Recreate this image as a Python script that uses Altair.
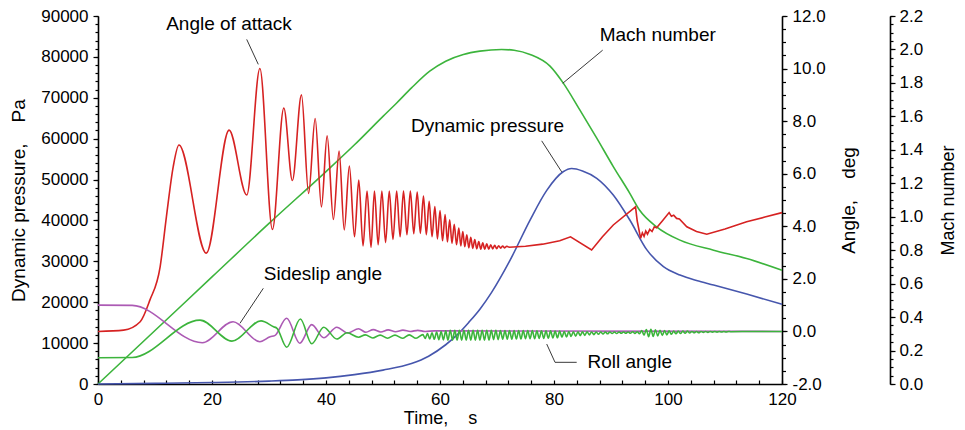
import altair as alt
import pandas as pd

# ---------------- data ----------------
# Angle of attack, deg (smooth oscillating part, extrema)
aoa1_t = [0, 4.5, 7.4, 9.1, 10.9, 12.0, 13.2, 14.2, 19, 23, 26.1, 28.4, 30.6, 32.6, 34.1, 35.7, 36.95, 38.1,
          39.2, 40.2, 41.3, 42.3, 43.2,
          44.1, 45.0, 45.75, 46.5, 47.2, 47.9, 48.5, 49.15, 49.8, 50.45, 51.1, 51.75, 52.4, 53.0, 53.6, 54.2,
          54.8, 55.4, 56.0, 56.55, 57.1, 57.6, 58.1, 58.6, 59.1, 59.55, 60.0, 60.45, 60.9, 61.3, 61.7, 62.1,
          62.5, 62.9, 63.3, 63.65, 64.0, 64.35, 64.7, 65.05, 65.4, 65.75, 66.1, 66.45, 66.8, 67.15, 67.5,
          67.85, 68.2, 68.55, 68.9, 69.25, 69.6, 69.95, 70.3, 70.65, 71.0, 71.35, 71.7, 72.1]
aoa1_v = [0.0, 0.05, 0.37, 1.19, 2.46, 4.36, 6.27, 7.09, 2.98, 7.66, 5.19, 10.0, 3.88, 8.5, 5.74, 9.0, 5.25, 8.1,
          4.74, 7.44, 4.26, 6.86, 3.86,
          6.29, 3.6, 5.76, 3.25, 5.34, 3.2, 5.34, 3.3, 5.34, 3.38, 5.34, 3.5, 5.34, 3.6, 5.34, 3.68,
          5.34, 3.72, 5.3, 3.73, 5.15, 3.68, 4.95, 3.6, 4.75, 3.52, 4.6, 3.45, 4.45, 3.4, 4.25, 3.35,
          4.08, 3.3, 3.93, 3.25, 3.8, 3.22, 3.68, 3.18, 3.58, 3.16, 3.5, 3.14, 3.42, 3.13, 3.37,
          3.13, 3.33, 3.13, 3.3, 3.14, 3.28, 3.15, 3.26, 3.17, 3.25, 3.18, 3.24, 3.2]
# Angle of attack, deg (piecewise part)
aoa2_t = [72.1, 75, 78, 81, 82.9, 86.6, 88.5, 90.4, 94.3, 94.6, 95.2, 95.5, 95.8, 96.1, 96.4, 96.8, 97.2,
          97.6, 98.0, 99.0, 100.2, 100.6, 101.0, 101.5, 102.0, 103.3, 105.0, 106.8, 110.0, 113.8, 117.0, 120.0]
aoa2_v = [3.2, 3.24, 3.32, 3.45, 3.6, 3.1, 3.6, 4.05, 4.74, 4.2, 3.54, 3.75, 3.62, 3.82, 3.7, 3.88, 3.8,
          3.98, 3.94, 4.2, 4.52, 4.38, 4.42, 4.3, 4.28, 3.98, 3.8, 3.7, 3.9, 4.17, 4.35, 4.52]

# Dynamic pressure, Pa
dp_t = [0, 10, 20, 30, 35, 40, 45, 50, 55, 58, 61, 63, 65, 67, 69, 72.3, 75.8, 78.7, 81.6, 83.1, 85,
        87.5, 90.4, 93.3, 96.3, 99.2, 102.1, 105, 108, 113.8, 120]
dp_v = [0, 150, 350, 700, 1000, 1500, 2300, 3400, 5000, 6800, 9600, 12000, 15000, 18300, 22300, 30300, 40100,
        47300, 51900, 52700, 52100, 50300, 46200, 40100, 32800, 28700, 26650, 25300, 24200, 22000, 19500]

# Mach number
m_t = [0, 10, 20, 30, 40, 45, 50, 52.4, 55, 58.2, 61, 64.1, 67, 70.8, 73, 75.8, 79.3, 81.6, 84.5, 87.5,
       90.4, 93.3, 95, 98, 102.1, 108, 113.8, 120]
m_v = [0, 0.32, 0.64, 0.96, 1.27, 1.43, 1.6, 1.68, 1.77, 1.87, 1.93, 1.97, 1.99, 2.0, 1.995, 1.97, 1.90,
       1.80, 1.64, 1.47, 1.30, 1.14, 1.04, 0.94, 0.86, 0.80, 0.75, 0.68]

# Sideslip angle, deg
ss_t = [0, 6, 18.3, 23.7, 28.4, 30.2, 31.0, 33.1, 35.4, 37.5, 39.6, 41.9, 43.8, 45.7, 47.0, 48.3, 49.6,
        50.9, 52.2, 53.5, 54.8, 56.1, 57.4, 59, 120]
ss_v = [1.0, 0.99, -0.43, 0.37, -0.39, -0.2, -0.16, 0.5, -0.45, 0.26, -0.24, 0.16, -0.06, 0.1, -0.03, 0.07,
        -0.02, 0.06, -0.01, 0.05, 0.0, 0.04, 0.0, 0.02, 0.0]

# Roll angle, deg (early part, extrema)
roll_t = [0, 6, 17.9, 23.5, 28.6, 30.8, 31.4, 33.1, 35.5, 37.5, 39.6, 41.9, 43.7, 45.7, 46.9, 48.2, 49.5,
          50.8, 52.1, 53.4, 54.6, 55.8, 57.0]
roll_v = [-1.0, -0.99, 0.43, -0.37, 0.4, 0.18, 0.12, -0.6, 0.47, -0.47, 0.16, -0.29, -0.05, -0.22, -0.13,
          -0.25, -0.14, -0.26, -0.14, -0.26, -0.13, -0.26, -0.12]
# Roll angle, deg (fast oscillation, sampled every 0.4 s from 57.4 s)
roll_osc_start = 57.4
roll_osc_step = 0.4
roll_osc = [
    -0.27, -0.08, -0.29, -0.05, -0.30, -0.02, -0.31, 0.0, -0.32, 0.02,
    -0.33, 0.04, -0.33, 0.04, -0.33, 0.04, -0.33, 0.04, -0.33, 0.04,
    -0.33, 0.04, -0.33, 0.04, -0.33, 0.04, -0.33, 0.04, -0.33, 0.04,
    -0.31, 0.04, -0.31, 0.03, -0.30, 0.03, -0.30, 0.03, -0.30, 0.03, -0.29, 0.03, -0.29, 0.03,
    -0.28, 0.03, -0.28, 0.03, -0.28, 0.02, -0.27, 0.02, -0.27, 0.02, -0.26,
    0.02, -0.25, 0.01, -0.24, 0.01, -0.22, 0.0, -0.21, 0.0, -0.19, -0.01, -0.18, -0.01, -0.16, -0.01,
    -0.15, -0.01, -0.13, -0.02, -0.12, -0.02, -0.11, -0.02, -0.10, -0.02, -0.09, -0.02, -0.08, -0.02, -0.08,
    -0.02, -0.07, -0.02, -0.07, -0.02, -0.07, -0.01, -0.08, -0.01, -0.09, 0.03, -0.14,
    0.07, -0.2, 0.08, -0.19, 0.06, -0.17, 0.04, -0.15, 0.03, -0.13, 0.02, -0.11, 0.01,
    -0.09, 0.01, -0.08, 0.01, -0.07, 0.01, -0.06, 0.0, -0.05, 0.0, -0.05, 0.0, -0.04, 0.0, -0.04, 0.0,
    -0.03, 0.0, -0.03, 0.0, -0.02, 0.0, -0.02, 0.0, -0.01]
roll_tail_t = [115, 120]
roll_tail_v = [0.0, 0.0]

# Annotations (time, angle-axis position)
ann_text = ["Angle of attack", "Mach number", "Dynamic pressure", "Sideslip angle", "Roll angle"]
ann_t = [22.98, 98.2, 68.33, 39.47, 93.28]
ann_v = [11.69, 11.27, 7.81, 2.18, -1.15]

lead_id = ["aoa", "aoa", "mach", "mach", "dp", "dp", "ss", "ss", "roll", "roll", "roll"]
lead_t = [26.09, 28.12, 88.54, 81.53, 77.84, 81.35, 29.0, 24.91, 83.98, 80.18, 78.72]
lead_v = [11.11, 10.16, 10.70, 9.44, 7.25, 6.07, 1.64, 0.31, -1.175, -1.175, -0.48]

# Axis ticks
x_major = [0, 20, 40, 60, 80, 100, 120]
x_minor = list(range(0, 121, 4))
pa_major = list(range(0, 90001, 10000))
pa_minor = list(range(0, 90001, 2000))
ang_major = list(range(-2, 13, 2))
ang_minor = [i * 0.5 for i in range(-4, 25)]
mach_major = [round(i * 0.2, 1) for i in range(12)]
mach_minor = [round(i * 0.05, 2) for i in range(45)]

# ---------------- build tables ----------------
df_aoa1 = pd.DataFrame({"t": aoa1_t, "v": aoa1_v})
df_aoa2 = pd.DataFrame({"t": aoa2_t, "v": aoa2_v})
df_dp = pd.DataFrame({"t": dp_t, "v": dp_v})
df_m = pd.DataFrame({"t": m_t, "v": m_v})
df_ss = pd.DataFrame({"t": ss_t, "v": ss_v})
osc_t = [round(roll_osc_start + i * roll_osc_step, 2) for i in range(len(roll_osc))]
df_roll = pd.DataFrame({"t": roll_t + osc_t + roll_tail_t, "v": roll_v + roll_osc + roll_tail_v})
df_ann = pd.DataFrame({"t": ann_t, "v": ann_v, "label": ann_text})
df_lead = pd.DataFrame({"id": lead_id, "t": lead_t, "v": lead_v})

FONT = "Liberation Sans"
RED = "#d62222"
GREEN = "#3cb43c"
BLUE = "#4656ad"
PURPLE = "#ac5ab4"

XS = alt.Scale(domain=[0, 120], nice=False, zero=False)
PA = alt.Scale(domain=[0, 90000], nice=False, zero=False)
ANG = alt.Scale(domain=[-2, 12], nice=False, zero=False)
MACH = alt.Scale(domain=[0, 2.2], nice=False, zero=False)

common = dict(grid=False, tickColor="black", domainColor="black", labelColor="black",
              labelFont=FONT, titleFont=FONT, titleColor="black", titleFontWeight="normal")


def X(axis=None):
    return alt.X("t:Q", scale=XS, axis=axis)


def Y(scale, axis=None):
    return alt.Y("v:Q", scale=scale, axis=axis)


# main x axis (labels + axis line)
x_main_axis = alt.Axis(orient="bottom", values=x_major, format="d", ticks=False, domain=True,
                       domainWidth=1.6, labelFontSize=17, labelPadding=7, labelFlush=False,
                       labelOverlap=False, title="Time,\u00a0\u00a0\u00a0\u00a0s", titleFontSize=18,
                       titleX=342, titleY=34, titleAlign="center", titleBaseline="middle",
                       titleAngle=0, **common)
# inward minor ticks of x axis
x_minor_axis = alt.Axis(orient="bottom", offset=-4, values=x_minor, ticks=True, tickSize=4, tickWidth=1.2,
                        labels=False, domain=False, title=None, **common)

pa_axis = alt.Axis(orient="left", values=pa_major, format="d", tickSize=5, tickWidth=1.2, domainWidth=1.6,
                   labelFontSize=17, labelPadding=5, labelOverlap=False, labelFlush=False,
                   title="Dynamic pressure,\u00a0\u00a0\u00a0\u00a0Pa", titleFontSize=19, titleAngle=270,
                   titleX=-80, titleY=184, titleAlign="center", titleBaseline="middle", **common)
pa_minor_axis = alt.Axis(orient="left", values=pa_minor, tickSize=3, tickWidth=1.2, labels=False,
                         domain=False, title=None, **common)

ang_axis = alt.Axis(orient="right", values=ang_major, format=".1f",
                    labelExpr="replace(datum.label, '\u2212', '-')", tickSize=5, tickWidth=1.2,
                    domainWidth=1.6, labelFontSize=17, labelPadding=5, labelOverlap=False, labelFlush=False,
                    title="Angle,\u00a0\u00a0\u00a0\u00a0deg", titleFontSize=19, titleAngle=270, titleX=66,
                    titleY=184, titleAlign="center", titleBaseline="middle", **common)
ang_minor_axis = alt.Axis(orient="right", values=ang_minor, tickSize=3.5, tickWidth=1.2, labels=False,
                          domain=False, title=None, **common)

mach_axis = alt.Axis(orient="right", offset=108, values=mach_major, format=".1f", tickSize=5, tickWidth=1.2,
                     domainWidth=1.6, labelFontSize=17, labelPadding=4, labelOverlap=False, labelFlush=False,
                     title="Mach number", titleFontSize=18, titleAngle=270, titleX=58, titleY=184,
                     titleAlign="center", titleBaseline="middle", **common)
mach_minor_axis = alt.Axis(orient="right", offset=108, values=mach_minor, tickSize=3, tickWidth=1.2,
                           labels=False, domain=False, title=None, **common)

# ---------------- layers ----------------
axes_pa = alt.Chart(df_dp).mark_line(strokeOpacity=0).encode(x=X(x_main_axis), y=Y(PA, pa_axis))
axes_pa_minor = alt.Chart(df_dp).mark_line(strokeOpacity=0).encode(x=X(x_minor_axis), y=Y(PA, pa_minor_axis))
axes_ang = alt.Chart(df_ss).mark_line(strokeOpacity=0).encode(x=X(), y=Y(ANG, ang_axis))
axes_ang_minor = alt.Chart(df_ss).mark_line(strokeOpacity=0).encode(x=X(), y=Y(ANG, ang_minor_axis))
axes_mach = alt.Chart(df_m).mark_line(strokeOpacity=0).encode(x=X(), y=Y(MACH, mach_axis))
axes_mach_minor = alt.Chart(df_m).mark_line(strokeOpacity=0).encode(x=X(), y=Y(MACH, mach_minor_axis))

mach_line = alt.Chart(df_m).mark_line(color=GREEN, strokeWidth=1.6, interpolate="monotone").encode(
    x=X(), y=Y(MACH))
dp_line = alt.Chart(df_dp).mark_line(color=BLUE, strokeWidth=1.6, interpolate="monotone").encode(
    x=X(), y=Y(PA))
aoa_line1 = alt.Chart(df_aoa1).mark_line(color=RED, strokeWidth=1.6, interpolate="monotone").encode(
    x=X(), y=Y(ANG))
aoa_line2 = alt.Chart(df_aoa2).mark_line(color=RED, strokeWidth=1.6, interpolate="linear").encode(
    x=X(), y=Y(ANG))
ss_line = alt.Chart(df_ss).mark_line(color=PURPLE, strokeWidth=1.6, interpolate="monotone").encode(
    x=X(), y=Y(ANG))
roll_line = alt.Chart(df_roll).mark_line(color=GREEN, strokeWidth=1.6, interpolate="monotone").encode(
    x=X(), y=Y(ANG))

leaders = alt.Chart(df_lead).mark_line(color="#222222", strokeWidth=0.9).encode(
    x=X(), y=Y(ANG), detail="id:N")
labels = alt.Chart(df_ann).mark_text(font=FONT, fontSize=19, color="black", align="center",
                                     baseline="middle").encode(x=X(), y=Y(ANG), text="label:N")

chart = alt.layer(
    axes_pa, axes_pa_minor, axes_ang, axes_ang_minor, axes_mach, axes_mach_minor,
    mach_line, dp_line, aoa_line1, aoa_line2, ss_line, roll_line, leaders, labels
).resolve_scale(x="independent", y="independent").properties(
    width=684, height=368,
    autosize=alt.AutoSizeParams(type="none"),
    padding={"left": 90, "top": 8, "right": 175, "bottom": 44},
    background="white",
).configure_view(strokeWidth=0)

chart.save("out.html", embed_options={"renderer": "svg", "actions": False})
